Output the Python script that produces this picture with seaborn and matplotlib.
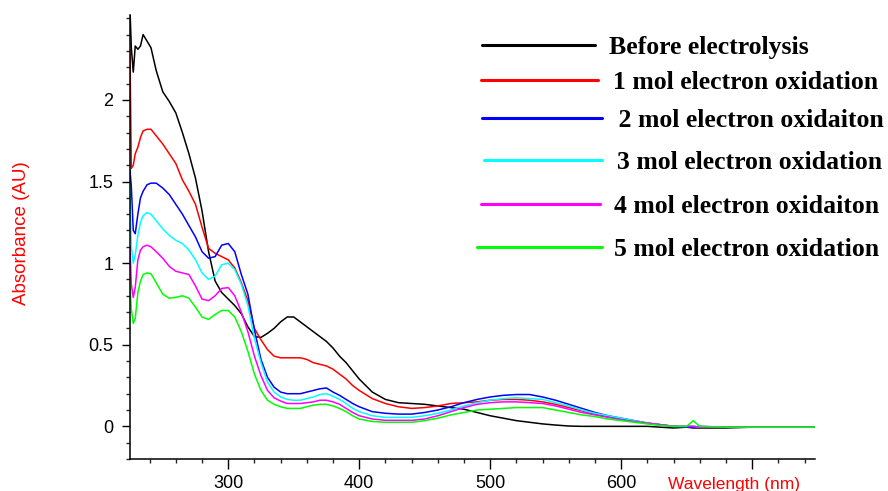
import numpy as np
import pandas as pd
import matplotlib
matplotlib.use("Agg")
import matplotlib.pyplot as plt
from matplotlib.lines import Line2D
from matplotlib.ticker import MultipleLocator
import seaborn as sns

# Wavelength grid (nm) shared by all spectra
wavelength = [225, 226, 227.5, 229, 231, 233, 235, 238, 241, 245,
              250, 255, 260, 265, 270, 275, 280, 285, 290, 295, 300, 305, 310, 315, 320,
              325, 330, 335, 340, 345, 350, 355, 360, 365, 370, 375, 380, 385, 390, 395, 400,
              410, 420, 430, 440, 450, 460, 470, 480, 490, 500, 510, 520, 530, 540, 550,
              560, 570, 580, 590, 600, 610, 620, 630, 640,
              650, 655, 660, 680, 700, 720, 748]

before = [2.55, 2.32, 2.17, 2.33, 2.31, 2.33, 2.40, 2.36, 2.32, 2.18,
          2.05, 1.99, 1.92, 1.80, 1.67, 1.52, 1.32, 1.07, 0.89, 0.82, 0.78, 0.74, 0.69, 0.61, 0.55,
          0.545, 0.57, 0.60, 0.64, 0.67, 0.67, 0.64, 0.61, 0.58, 0.55, 0.52, 0.48, 0.43, 0.39, 0.34, 0.29,
          0.21, 0.165, 0.145, 0.14, 0.135, 0.125, 0.115, 0.105, 0.085, 0.065, 0.05, 0.035, 0.025, 0.015, 0.008,
          0.002, 0.0, 0.0, 0.0, 0.0, 0.0, 0.0, -0.005, -0.01,
          -0.005, -0.01, -0.01, -0.01, -0.005, -0.005, -0.005]

ox1 = [2.30, 1.58, 1.60, 1.67, 1.71, 1.77, 1.81, 1.82, 1.82, 1.78,
       1.73, 1.67, 1.61, 1.51, 1.44, 1.36, 1.22, 1.09, 1.06, 1.04, 1.02, 0.97, 0.88, 0.77, 0.60,
       0.53, 0.47, 0.43, 0.42, 0.42, 0.42, 0.42, 0.41, 0.39, 0.38, 0.37, 0.35, 0.32, 0.29, 0.25, 0.22,
       0.17, 0.14, 0.12, 0.11, 0.115, 0.125, 0.14, 0.145, 0.15, 0.16, 0.165, 0.165, 0.16, 0.15, 0.135,
       0.115, 0.095, 0.075, 0.06, 0.045, 0.03, 0.02, 0.01, 0.0,
       0.0, 0.0, -0.005, -0.005, -0.005, -0.005, -0.005]

ox2 = [1.57, 1.47, 1.20, 1.18, 1.30, 1.40, 1.44, 1.48, 1.49, 1.49,
       1.46, 1.42, 1.36, 1.30, 1.23, 1.16, 1.07, 1.03, 1.04, 1.11, 1.12, 1.07, 0.93, 0.81, 0.59,
       0.41, 0.30, 0.24, 0.21, 0.20, 0.20, 0.20, 0.21, 0.22, 0.23, 0.235, 0.21, 0.19, 0.165, 0.14, 0.12,
       0.09, 0.08, 0.075, 0.075, 0.085, 0.10, 0.12, 0.145, 0.165, 0.18, 0.19, 0.195, 0.195, 0.18, 0.16,
       0.135, 0.11, 0.085, 0.065, 0.05, 0.035, 0.02, 0.01, 0.0,
       -0.005, -0.005, 0.0, -0.005, -0.005, -0.005, -0.005]

ox3 = [1.47, 1.10, 1.00, 1.05, 1.17, 1.25, 1.29, 1.31, 1.30, 1.26,
       1.21, 1.17, 1.14, 1.12, 1.08, 1.02, 0.94, 0.90, 0.92, 0.99, 1.00, 0.96, 0.87, 0.74, 0.54,
       0.39, 0.27, 0.21, 0.18, 0.165, 0.16, 0.16, 0.17, 0.18, 0.195, 0.20, 0.185, 0.165, 0.14, 0.11, 0.09,
       0.065, 0.055, 0.055, 0.055, 0.065, 0.08, 0.10, 0.125, 0.145, 0.16, 0.17, 0.175, 0.17, 0.165, 0.145,
       0.125, 0.10, 0.08, 0.065, 0.05, 0.035, 0.02, 0.01, 0.0,
       0.0, 0.0, -0.005, -0.005, -0.005, -0.005, -0.005]

ox4 = [1.10, 0.87, 0.79, 0.85, 1.02, 1.08, 1.10, 1.11, 1.10, 1.07,
       1.03, 0.98, 0.95, 0.94, 0.93, 0.86, 0.78, 0.77, 0.80, 0.845, 0.85, 0.80, 0.70, 0.58, 0.43,
       0.31, 0.22, 0.175, 0.155, 0.14, 0.14, 0.14, 0.145, 0.15, 0.16, 0.16, 0.15, 0.135, 0.11, 0.085, 0.065,
       0.045, 0.037, 0.037, 0.037, 0.045, 0.065, 0.09, 0.115, 0.135, 0.145, 0.15, 0.15, 0.145, 0.14, 0.125,
       0.105, 0.085, 0.07, 0.055, 0.04, 0.03, 0.02, 0.01, 0.0,
       0.0, 0.0, -0.005, -0.005, -0.005, -0.005, -0.005]

ox5 = [0.87, 0.72, 0.63, 0.66, 0.82, 0.89, 0.93, 0.94, 0.935, 0.88,
       0.81, 0.785, 0.79, 0.80, 0.785, 0.73, 0.67, 0.655, 0.685, 0.71, 0.71, 0.67, 0.58, 0.46, 0.32,
       0.22, 0.16, 0.135, 0.12, 0.11, 0.11, 0.11, 0.12, 0.13, 0.135, 0.135, 0.125, 0.11, 0.09, 0.065, 0.045,
       0.03, 0.025, 0.025, 0.025, 0.035, 0.05, 0.07, 0.085, 0.10, 0.105, 0.11, 0.115, 0.115, 0.115, 0.10,
       0.085, 0.07, 0.06, 0.045, 0.035, 0.025, 0.015, 0.005, 0.0,
       0.0, 0.035, 0.0, -0.005, -0.005, -0.005, -0.005]

series_names = ["Before electrolysis",
                "1 mol electron oxidation",
                " 2 mol electron oxidaiton",
                "3 mol electron oxidation",
                "4 mol electron oxidaiton",
                "5 mol electron oxidation"]
series_values = [before, ox1, ox2, ox3, ox4, ox5]
series_colors = ["#000000", "#ff0000", "#0000ff", "#00ffff", "#ff00ff", "#00ff00"]

x_tick_values = [300, 400, 500, 600, 700]
x_tick_labels = ["300", "400", "500", "600", ""]
y_tick_values = [0, 0.5, 1, 1.5, 2]
y_tick_labels = ["0", "0.5", "1", "1.5", "2"]

frames = []
for name, vals in zip(series_names, series_values):
    frames.append(pd.DataFrame({"wavelength": wavelength, "absorbance": vals, "sample": name}))
df = pd.concat(frames, ignore_index=True)

sns.set_style("ticks")
plt.rcParams["font.family"] = ["Liberation Sans", "DejaVu Sans"]

W, H = 888, 491
fig = plt.figure(figsize=(W / 100, H / 100), dpi=100)
ax = fig.add_axes([130 / W, 32 / H, (815 - 130) / W, (459 - 15) / H])

sns.lineplot(data=df, x="wavelength", y="absorbance", hue="sample",
             hue_order=series_names, palette=series_colors, estimator=None,
             sort=False, linewidth=1.1, legend=False, ax=ax)

ax.set_xlim(225, 748)
ax.set_ylim(-0.2, 2.52)
ax.set_xlabel("")
ax.set_ylabel("")

for side in ("top", "right"):
    ax.spines[side].set_visible(False)
for side in ("left", "bottom"):
    ax.spines[side].set_linewidth(1.1)
    ax.spines[side].set_color("black")

ax.set_xticks(x_tick_values)
ax.set_xticklabels(x_tick_labels)
ax.set_yticks(y_tick_values)
ax.set_yticklabels(y_tick_labels)
ax.xaxis.set_minor_locator(MultipleLocator(20))
ax.yaxis.set_minor_locator(MultipleLocator(0.1))
ax.tick_params(axis="x", which="major", length=7.2, width=1.0, pad=4, labelsize=13, colors="black")
ax.tick_params(axis="x", which="minor", length=3.2, width=1.0)
ax.tick_params(axis="y", which="major", length=5.8, width=1.0, pad=6, labelsize=13, colors="black")
ax.tick_params(axis="y", which="minor", length=2.6, width=1.0)

# axis titles in red
fig.text(734 / W, 2.5 / H, "Wavelength (nm)", color="red", fontsize=12.5,
         ha="center", va="baseline")
fig.text(22 / W, 1 - 233 / H, "Absorbance (AU)", color="red", fontsize=13.5,
         rotation=90, ha="center", va="center")

# legend block: line samples with bold serif labels
legend_lines = [(482, 595, 45), (481, 598, 80), (482, 602, 118),
                (484, 602, 160), (481, 600, 204), (477, 602, 247)]
legend_text_x = [609, 613, 612, 617, 614, 614]
for (x0, x1, yy), tx, name, col in zip(legend_lines, legend_text_x, series_names, series_colors):
    fig.add_artist(Line2D([x0 / W, x1 / W], [1 - yy / H, 1 - yy / H],
                          transform=fig.transFigure, color=col, linewidth=2.2))
    fig.text(tx / W, 1 - yy / H, name, fontsize=18.5, fontweight="bold",
             family=["Liberation Serif", "DejaVu Serif"], ha="left", va="center_baseline",
             color="black")

fig.savefig("out.png", dpi=100, facecolor="white")
